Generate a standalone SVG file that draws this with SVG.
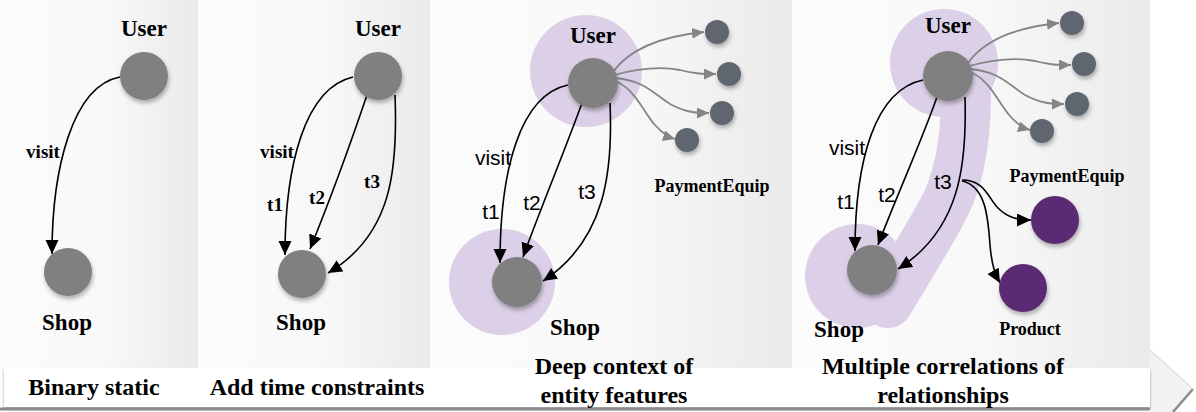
<svg xmlns="http://www.w3.org/2000/svg" width="1196" height="412" viewBox="0 0 1196 412">
<defs>
<linearGradient id="pg" x1="0" y1="0" x2="1" y2="0">
<stop offset="0" stop-color="#fcfcfc"/>
<stop offset="0.55" stop-color="#f8f8f8"/>
<stop offset="1" stop-color="#eaeaea"/>
</linearGradient>
<filter id="sh" x="-30%" y="-30%" width="160%" height="170%">
<feDropShadow dx="1" dy="3" stdDeviation="2" flood-color="#000" flood-opacity="0.3"/>
</filter>
<filter id="bs" x="-5%" y="-50%" width="110%" height="200%">
<feDropShadow dx="0" dy="2" stdDeviation="1.5" flood-color="#000" flood-opacity="0.35"/>
</filter>
<marker id="ab" markerUnits="userSpaceOnUse" markerWidth="15" markerHeight="14" refX="14" refY="6.5" orient="auto">
<path d="M0,0 L14,6.5 L0,13 z" fill="#000"/>
</marker>
<marker id="ag" markerUnits="userSpaceOnUse" markerWidth="13" markerHeight="12" refX="12" refY="5.5" orient="auto">
<path d="M0,0 L12,5.5 L0,11 z" fill="#858585"/>
</marker>
</defs>
<style>
.node{fill:#808080;filter:url(#sh)}
.sat{fill:#5f6670;filter:url(#sh)}
.prod{fill:#5a2b72;filter:url(#sh)}
.halo{fill:#dcd0e8}
.ser{font-family:'Liberation Serif','Times New Roman',Times,'DejaVu Serif',serif;font-weight:bold;fill:#000;text-anchor:middle}
.ttl{font-size:23px}
.cap{font-size:24px}
.lbl{font-size:19px}
.sm{font-size:18px}
.sl{font-family:'Liberation Sans',Arial,sans-serif;font-size:21px;fill:#000;text-anchor:middle}
.e{fill:none;stroke:#000;stroke-width:1.6;marker-end:url(#ab)}
.g{fill:none;stroke:#858585;stroke-width:1.8;marker-end:url(#ag)}
</style>
<g id="background">
<rect x="0" y="0" width="1196" height="412" fill="#ffffff"/>
<rect x="0" y="0" width="198" height="370" fill="url(#pg)"/>
<rect x="198" y="0" width="232" height="370" fill="url(#pg)"/>
<rect x="430" y="0" width="362" height="370" fill="url(#pg)"/>
<rect x="792" y="0" width="358" height="370" fill="url(#pg)"/>
<polygon points="1150,350 1193,389 1173,412 1150,412" fill="#f2f2f2"/>
<rect x="4" y="368" width="1146" height="39" fill="#ffffff" filter="url(#bs)"/>
<line x1="0" y1="409" x2="1150" y2="409" stroke="#8a8a8a" stroke-width="3"/>
<line x1="1173" y1="412" x2="1193" y2="389" stroke="#8a8a8a" stroke-width="2.5"/>
<line x1="1150" y1="350" x2="1193" y2="389" stroke="#e2e2e2" stroke-width="1.5"/>
</g>
<g id="halos">
<circle class="halo" cx="586" cy="71" r="56"/>
<circle class="halo" cx="502" cy="282" r="53"/>
<circle class="halo" cx="944" cy="63" r="54"/>
<circle class="halo" cx="857" cy="276" r="52"/>
<path d="M966,95 C 966,150 956,188 940,215 C 925,242 908,270 888,303" fill="none" stroke="#dcd0e8" stroke-width="50" stroke-linecap="round"/>
</g>
<g id="connectors">
<path class="e" d="M120,77 C 72,86 52,170 52,254"/>
<path class="e" d="M353,77 C 305,88 285,165 285,255"/>
<path class="e" d="M367,95 C 350,145 328,205 310,249"/>
<path class="e" d="M395,95 C 398,170 392,235 328,273"/>
<path class="e" d="M568,85 C 520,95 500,170 500,263"/>
<path class="e" d="M582,103 C 565,150 540,210 523,257"/>
<path class="e" d="M610,103 C 613,170 606,240 543,281"/>
<path class="g" d="M613,72 C 630,48 665,36 704,32"/>
<path class="g" d="M614,75 C 640,68 660,66 680,70 C 695,74 703,74 716,74"/>
<path class="g" d="M614,78 C 645,80 655,95 670,104 C 685,112 695,113 709,113"/>
<path class="g" d="M613,80 C 635,88 642,110 655,125 C 662,133 668,137 675,139"/>
<path class="e" d="M923,80 C 875,90 855,160 855,251"/>
<path class="e" d="M937,97 C 920,145 895,200 878,245"/>
<path class="e" d="M965,97 C 967,165 960,230 898,269"/>
<path class="g" d="M968,63 C 985,39 1020,27 1059,23"/>
<path class="g" d="M969,66 C 995,59 1015,57 1035,61 C 1050,65 1058,65 1071,65"/>
<path class="g" d="M969,69 C 1000,71 1010,86 1025,95 C 1040,103 1050,104 1064,104"/>
<path class="g" d="M968,71 C 990,79 997,101 1010,116 C 1017,124 1023,128 1030,130"/>
<path class="e" d="M962,180 C 985,180 988,198 998,208 C 1008,218 1018,220 1031,220"/>
<path class="e" d="M962,181 C 985,186 988,215 990,245 C 992,268 996,276 1000,283"/>
</g>
<g id="p1-user"><circle class="node" cx="144" cy="76" r="24"/><text class="ser ttl" x="144" y="36">User</text></g>
<g id="p1-shop"><circle class="node" cx="68" cy="272" r="24"/><text class="ser ttl" x="67" y="330">Shop</text></g>
<g id="p1-labels"><text class="ser lbl" x="43" y="158">visit</text><text class="ser cap" x="94" y="395">Binary static</text></g>
<g id="p2-user"><circle class="node" cx="378" cy="76" r="24"/><text class="ser ttl" x="378" y="36">User</text></g>
<g id="p2-shop"><circle class="node" cx="302" cy="274" r="24"/><text class="ser ttl" x="301" y="330">Shop</text></g>
<g id="p2-labels"><text class="ser lbl" x="277" y="158">visit</text><text class="ser lbl" x="275" y="211">t1</text><text class="ser lbl" x="317" y="204">t2</text><text class="ser lbl" x="372" y="188">t3</text><text class="ser cap" x="317" y="395">Add time constraints</text></g>
<g id="p3-user"><circle class="node" cx="593" cy="83" r="25"/><text class="ser ttl" x="593" y="43">User</text></g>
<g id="p3-shop"><circle class="node" cx="517" cy="282" r="25"/><text class="ser ttl" x="575" y="335">Shop</text></g>
<g id="p3-sat1"><circle class="sat" cx="717" cy="32" r="12"/></g>
<g id="p3-sat2"><circle class="sat" cx="729" cy="74" r="12"/></g>
<g id="p3-sat3"><circle class="sat" cx="722" cy="113" r="12"/></g>
<g id="p3-sat4"><circle class="sat" cx="687" cy="140" r="12"/></g>
<g id="p3-labels"><text class="sl" x="493" y="165">visit</text><text class="sl" x="491" y="219">t1</text><text class="sl" x="532" y="210">t2</text><text class="sl" x="587" y="199">t3</text><text class="ser sm" x="712" y="192">PaymentEquip</text><text class="ser cap" x="614" y="374">Deep context of</text><text class="ser cap" x="614" y="403">entity features</text></g>
<g id="p4-user"><circle class="node" cx="948" cy="76" r="25"/><text class="ser ttl" x="948" y="33">User</text></g>
<g id="p4-shop"><circle class="node" cx="872" cy="270" r="25"/><text class="ser ttl" x="839" y="337">Shop</text></g>
<g id="p4-sat1"><circle class="sat" cx="1072" cy="23" r="12"/></g>
<g id="p4-sat2"><circle class="sat" cx="1084" cy="64" r="12"/></g>
<g id="p4-sat3"><circle class="sat" cx="1077" cy="104" r="12"/></g>
<g id="p4-sat4"><circle class="sat" cx="1042" cy="131" r="12"/></g>
<g id="p4-payment"><circle class="prod" cx="1055" cy="220" r="24"/><text class="ser sm" x="1067" y="182">PaymentEquip</text></g>
<g id="p4-product"><circle class="prod" cx="1023" cy="288" r="24"/><text class="ser sm" x="1030" y="335">Product</text></g>
<g id="p4-labels"><text class="sl" x="847" y="155">visit</text><text class="sl" x="846" y="209">t1</text><text class="sl" x="887" y="202">t2</text><text class="sl" x="943" y="189">t3</text><text class="ser cap" x="943" y="374">Multiple correlations of</text><text class="ser cap" x="943" y="403">relationships</text></g>
</svg>
